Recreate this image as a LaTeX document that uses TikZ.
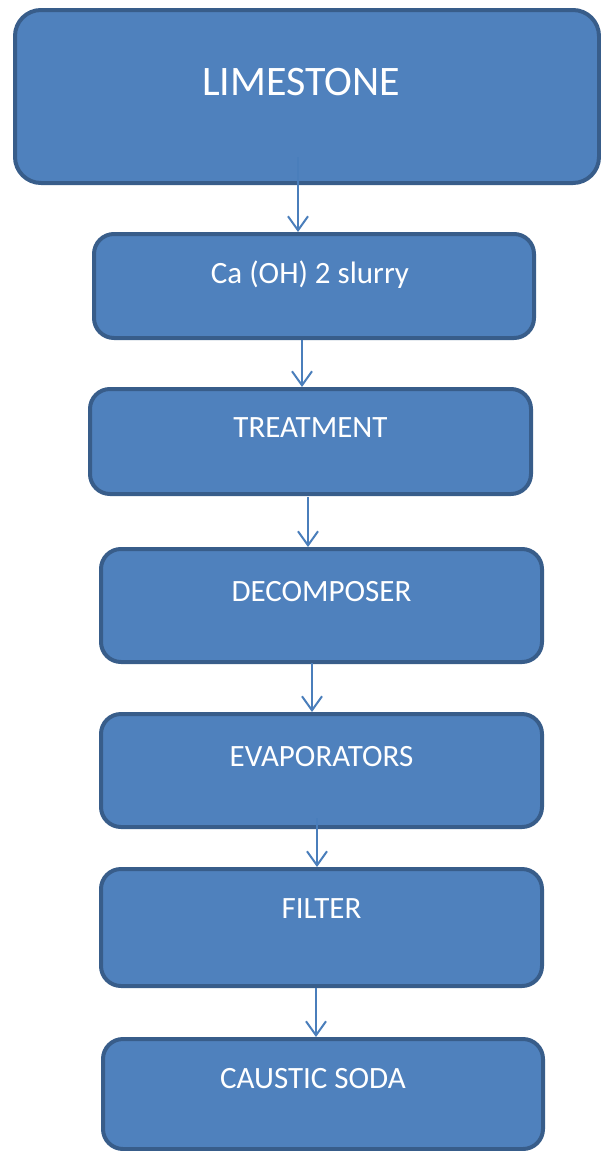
\documentclass[tikz,border=0pt]{standalone}
\usepackage{fontspec}
\setmainfont{Carlito}
\usetikzlibrary{arrows.meta}
\definecolor{boxfill}{HTML}{4F81BD}
\definecolor{boxline}{HTML}{385D8A}
\definecolor{arrowcol}{HTML}{4A7EBB}
\tikzset{
  stepbox/.style={draw=boxline, line width=4pt, fill=boxfill, rounded corners=20pt, inner sep=0pt},
  steptext/.style={anchor=base, text=white, inner sep=0pt, font=\fontsize{31}{36}\selectfont},
  flowarrow/.style={draw=arrowcol, line width=2pt, -{Straight Barb[length=14pt,width=20pt,line width=2pt]}}
}
\begin{document}
\begin{tikzpicture}[x=1pt,y=-1pt]
\useasboundingbox (0,0) rectangle (601,1151);
\clip (0,0) rectangle (601,1151);
% boxes
\node[stepbox, rounded corners=26pt, minimum width=584pt, minimum height=173pt] (b1) at (307,96.5) {};
\node[stepbox, minimum width=440pt, minimum height=104pt] (b2) at (314,286) {};
\node[stepbox, minimum width=441pt, minimum height=105pt] (b3) at (310.5,441.5) {};
\node[stepbox, minimum width=441pt, minimum height=113pt] (b4) at (321.5,605.5) {};
\node[stepbox, minimum width=441pt, minimum height=113pt] (b5) at (321.5,770.5) {};
\node[stepbox, minimum width=441pt, minimum height=117pt] (b6) at (321.5,927.5) {};
\node[stepbox, minimum width=440pt, minimum height=110pt] (b7) at (323,1094) {};
% texts
\node[steptext, font=\fontsize{42}{48}\selectfont] (t1) at (301,95) {LIMESTONE};
\node[steptext] (t2) at (310,283) {Ca (OH) 2 slurry};
\node[steptext] (t3) at (310.5,437) {TREATMENT};
\node[steptext] (t4) at (321.5,601) {DECOMPOSER};
\node[steptext] (t5) at (321.5,766) {EVAPORATORS};
\node[steptext] (t6) at (321.5,918) {FILTER};
\node[steptext] (t7) at (313,1088) {CAUSTIC SODA};
% arrow starts
\coordinate (s1) at (298,157);
\coordinate (s2) at (302,340);
\coordinate (s3) at (308,497);
\coordinate (s4) at (312,663);
\coordinate (s5) at (317,818);
\coordinate (s6) at (316,988);
% arrows
\draw[flowarrow] (s1) -- (s1 |- b2.north);
\draw[flowarrow] (s2) -- (s2 |- b3.north);
\draw[flowarrow] (s3) -- (s3 |- b4.north);
\draw[flowarrow] (s4) -- (s4 |- b5.north);
\draw[flowarrow] (s5) -- (s5 |- b6.north);
\draw[flowarrow] (s6) -- (s6 |- b7.north);
\end{tikzpicture}
\end{document}
